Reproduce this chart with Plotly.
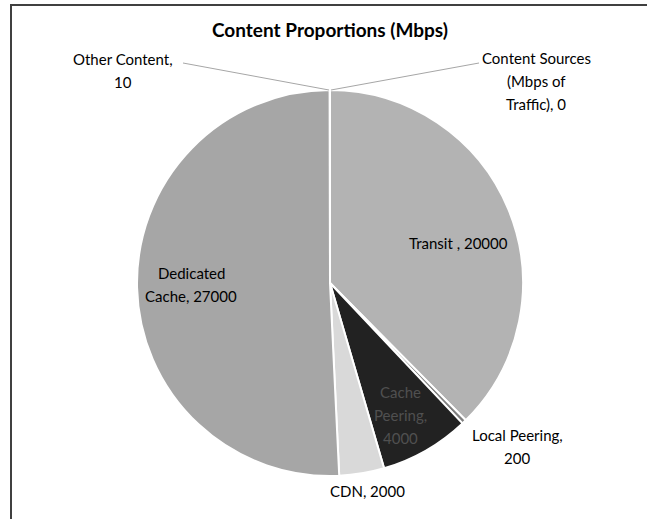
import plotly.graph_objects as go

# Traffic sources in Mbps, clockwise from 12 o'clock
categories = ["Content Sources (Mbps of Traffic)", "Transit ", "Local Peering",
              "Cache Peering", "CDN", "Dedicated Cache", "Other Content"]
values = [0, 20000, 200, 4000, 2000, 27000, 10]
colors = ["#b3b3b3", "#b3b3b3", "#7f7f7f", "#222222", "#d9d9d9", "#a6a6a6", "#a6a6a6"]

# label text with manual line breaks as drawn on the chart
label_lines = [
    ["Content Sources", "(Mbps of", "Traffic), 0"],
    ["Transit , 20000"],
    ["Local Peering,", "200"],
    ["Cache", "Peering,", "4000"],
    ["CDN, 2000"],
    ["Dedicated", "Cache, 27000"],
    ["Other Content,", "10"],
]

W, H = 647, 519
cx, cy, r = 330, 283, 193  # pie centre / radius in pixels
LINE_H = 23                # label line spacing in pixels


def px(x):
    return x / W


def py(y):
    return 1 - y / H


fig = go.Figure(go.Pie(
    labels=categories,
    values=values,
    sort=False,
    direction="clockwise",
    rotation=0,
    textinfo="none",
    hoverinfo="label+value",
    marker=dict(colors=colors, line=dict(color="white", width=2)),
    domain=dict(x=[px(cx - r), px(cx + r)], y=[py(cy + r), py(cy - r)]),
    showlegend=False,
))

# label placement (pixel centres) and text colour per slice
label_pos = [(536, 81), (458, 243), (517, 446), (400, 415), (367, 491), (191, 284), (123, 70)]
label_col = ["#000000", "#000000", "#000000", "#505050", "#000000", "#000000", "#000000"]

annotations = []
for lines, (lx, ly), col in zip(label_lines, label_pos, label_col):
    n = len(lines)
    for i, line in enumerate(lines):
        yy = ly + (i - (n - 1) / 2) * LINE_H
        annotations.append(dict(
            x=px(lx), y=py(yy), xref="paper", yref="paper",
            text=line, showarrow=False, align="center",
            xanchor="center", yanchor="middle",
            font=dict(family="Lato, sans-serif", size=15, color=col),
        ))

annotations.append(dict(
    x=px(cx), y=py(30), xref="paper", yref="paper",
    text="<b>Content Proportions (Mbps)</b>", showarrow=False,
    xanchor="center", yanchor="middle",
    font=dict(family="Lato, sans-serif", size=19, color="#000000"),
))

shapes = [
    # chart frame
    dict(type="rect", xref="paper", yref="paper",
         x0=px(11), x1=1.02, y0=-0.02, y1=py(5),
         line=dict(color="#404040", width=2), fillcolor="rgba(0,0,0,0)"),
    # leader lines for the two thin slices at the top
    dict(type="line", xref="paper", yref="paper",
         x0=px(cx - 1), y0=py(cy - r), x1=px(183), y1=py(63),
         line=dict(color="#a6a6a6", width=1)),
    dict(type="line", xref="paper", yref="paper",
         x0=px(cx + 1), y0=py(cy - r), x1=px(479), y1=py(63),
         line=dict(color="#a6a6a6", width=1)),
]

fig.update_layout(
    width=W, height=H,
    margin=dict(l=0, r=0, t=0, b=0),
    paper_bgcolor="white",
    annotations=annotations,
    shapes=shapes,
)

fig.write_html("out.html")
